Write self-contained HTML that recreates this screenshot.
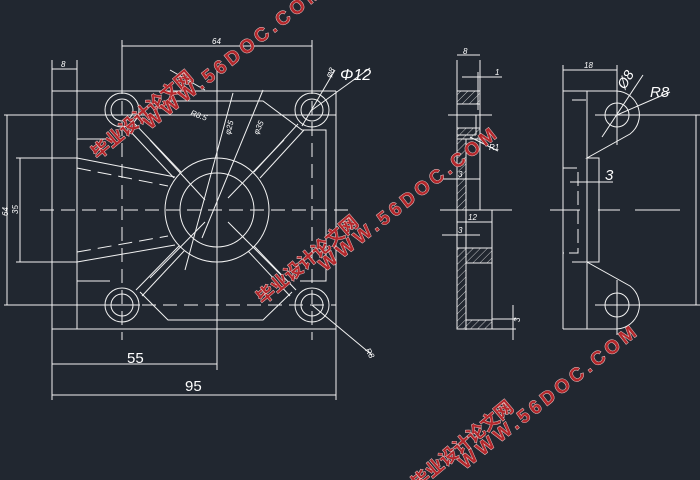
<!DOCTYPE html>
<html><head><meta charset="utf-8"><style>
html,body{margin:0;padding:0;background:#212730;}
svg{display:block}
.w{font-family:"Liberation Sans","Noto Sans CJK SC",sans-serif;font-weight:bold;fill:#b3272b;stroke:#f0d0d0;stroke-width:0.9;paint-order:stroke}
.t{font-family:"Liberation Sans",sans-serif;fill:#fff;font-style:italic}
</style></head><body>
<svg width="700" height="480" viewBox="0 0 700 480" xmlns="http://www.w3.org/2000/svg">
<rect width="700" height="480" fill="#212730"/>
<g stroke="#f2f2f2" stroke-width="1" fill="none">
<line x1="52" y1="60" x2="52" y2="400"/>
<line x1="77" y1="60" x2="77" y2="329"/>
<line x1="336" y1="91" x2="336" y2="400"/>
<line x1="52" y1="91" x2="336" y2="91"/>
<line x1="52" y1="329" x2="336" y2="329"/>
<line x1="122" y1="40" x2="122" y2="90"/>
<line x1="312" y1="40" x2="312" y2="90"/>
<line x1="217" y1="70" x2="217" y2="370"/>
<line x1="122" y1="46" x2="312" y2="46"/>
<line x1="52" y1="69" x2="77" y2="69"/>
<line x1="4" y1="115" x2="336" y2="115"/>
<line x1="4" y1="305" x2="140" y2="305"/>
<line x1="7" y1="115" x2="7" y2="305"/>
<line x1="16" y1="158" x2="77" y2="158"/>
<line x1="16" y1="262" x2="77" y2="262"/>
<line x1="20" y1="158" x2="20" y2="262"/>
<line x1="52" y1="364" x2="217" y2="364"/>
<line x1="52" y1="395" x2="336" y2="395"/>
<polyline points="77,139 110,139"/>
<polyline points="77,281 110,281"/>
<polyline points="170,101 263,101 302,130 326,130 326,281 300,281"/>
<polyline points="140,292 168,320 263,320 292,292"/>
<line x1="77" y1="158" x2="175" y2="177"/>
<line x1="77" y1="262" x2="175" y2="245"/>
<g stroke-dasharray="14,7">
<line x1="77" y1="168" x2="168" y2="186"/>
<line x1="77" y1="252" x2="168" y2="236"/>
<line x1="77" y1="168" x2="77" y2="252"/>
<line x1="122" y1="80" x2="122" y2="340"/>
<line x1="312" y1="80" x2="312" y2="340"/>
<line x1="40" y1="210" x2="350" y2="210"/>
<line x1="100" y1="305" x2="336" y2="305"/>
</g>
<circle cx="122" cy="110" r="17"/><circle cx="122" cy="110" r="11"/>
<circle cx="312" cy="110" r="17"/><circle cx="312" cy="110" r="11"/>
<circle cx="122" cy="305" r="17"/><circle cx="122" cy="305" r="11"/>
<circle cx="312" cy="305" r="17"/><circle cx="312" cy="305" r="11"/>
<circle cx="217" cy="210" r="52"/><circle cx="217" cy="210" r="37"/>
<line x1="135" y1="124" x2="181" y2="172"/><line x1="129" y1="130" x2="174" y2="178"/>
<line x1="298" y1="124" x2="254" y2="172"/><line x1="304" y1="130" x2="260" y2="178"/>
<line x1="136" y1="290" x2="179" y2="246"/><line x1="142" y1="296" x2="184" y2="251"/>
<line x1="296" y1="290" x2="254" y2="246"/><line x1="290" y1="296" x2="248" y2="251"/>
<line x1="150" y1="140" x2="205" y2="200"/><line x1="284" y1="140" x2="228" y2="198"/>
<line x1="150" y1="278" x2="205" y2="222"/><line x1="284" y1="278" x2="228" y2="222"/>
<line x1="312" y1="110" x2="370" y2="68"/><line x1="302" y1="126" x2="335" y2="70"/>
<line x1="233" y1="93" x2="185" y2="270"/><line x1="263" y1="90" x2="202" y2="238"/>
<line x1="170" y1="70" x2="205" y2="90"/>
<line x1="312" y1="305" x2="372" y2="355"/>
<rect x="457" y="91" width="23" height="119"/>
<rect x="457" y="210" width="35" height="119"/>
<line x1="457" y1="115" x2="480" y2="115"/>
<line x1="457" y1="135" x2="476" y2="135"/>
<line x1="476" y1="115" x2="476" y2="135"/>
<line x1="457" y1="60" x2="457" y2="91"/><line x1="480" y1="60" x2="480" y2="91"/>
<line x1="457" y1="55" x2="480" y2="55"/>
<line x1="462" y1="77" x2="502" y2="77"/><line x1="478" y1="72" x2="478" y2="110"/>
<line x1="448" y1="115" x2="492" y2="115"/>
<line x1="470" y1="137" x2="498" y2="151"/>
<line x1="442" y1="179" x2="480" y2="179"/>
<line x1="440" y1="210" x2="512" y2="210"/>
<line x1="457" y1="222" x2="492" y2="222"/>
<line x1="442" y1="235" x2="480" y2="235"/>
<line x1="466" y1="210" x2="466" y2="330"/>
<line x1="466" y1="248" x2="492" y2="248"/>
<line x1="466" y1="263" x2="492" y2="263"/>
<line x1="466" y1="320" x2="492" y2="320"/>
<line x1="492" y1="329" x2="516" y2="329"/><line x1="492" y1="319" x2="516" y2="319"/>
<line x1="513" y1="305" x2="513" y2="340"/>
<line x1="563" y1="91" x2="563" y2="329"/><line x1="587" y1="91" x2="587" y2="329"/>
<line x1="563" y1="91" x2="617" y2="91"/><line x1="563" y1="329" x2="617" y2="329"/>
<line x1="563" y1="65" x2="563" y2="91"/><line x1="617" y1="65" x2="617" y2="145"/>
<line x1="563" y1="70" x2="617" y2="70"/>
<path d="M617,91 A24,24 0 0 1 630,134 L587,158 L599,158 L599,262 L587,262 L630,286 A24,24 0 0 1 617,329"/>
<circle cx="617" cy="115" r="12"/><circle cx="617" cy="305" r="12"/>
<line x1="595" y1="115" x2="700" y2="115"/><line x1="595" y1="305" x2="700" y2="305"/>
<line x1="617" y1="280" x2="617" y2="335"/>
<line x1="602" y1="137" x2="643" y2="75"/><line x1="617" y1="115" x2="670" y2="92"/>
<line x1="696" y1="115" x2="696" y2="305"/>
<line x1="570" y1="182" x2="613" y2="182"/>
<line x1="550" y1="210" x2="580" y2="210"/><line x1="598" y1="210" x2="620" y2="210"/><line x1="635" y1="210" x2="680" y2="210"/>
<g stroke-dasharray="14,5">
<polyline points="572,100 587,100 M572,100 572,158 587,158"/>
<polyline points="563,168 578,168 578,253 563,253"/>
<polyline points="572,262 587,262 M572,262 572,320 587,320"/>
</g>
</g>
<defs><pattern id="h" width="5" height="5" patternUnits="userSpaceOnUse" patternTransform="rotate(45)"><line x1="0" y1="0" x2="0" y2="5" stroke="#eee" stroke-width="0.8"/></pattern></defs>
<g fill="url(#h)" stroke="#eee" stroke-width="1">
<rect x="457" y="91" width="23" height="13"/>
<rect x="457" y="128" width="23" height="11"/>
<rect x="457" y="139" width="9" height="71"/>
<rect x="457" y="248" width="9" height="81"/>
<rect x="466" y="248" width="26" height="15"/>
<rect x="466" y="320" width="26" height="9"/>
</g>
<g class="t" font-size="8">
<text x="212" y="44">64</text><text x="61" y="67">8</text>
<text x="463" y="54">8</text><text x="495" y="75">1</text><text x="489" y="150">R1</text>
<text x="468" y="220">12</text><text x="458" y="233">3</text><text x="458" y="177">3</text>
<text x="584" y="68">18</text>
<text transform="translate(8,216) rotate(-90)">64</text>
<text transform="translate(18,214) rotate(-90)">35</text>
<text transform="translate(700,216) rotate(90)">64</text>
<text transform="translate(520,322) rotate(-90)">3</text>
<text transform="translate(190,115) rotate(20)">R8.5</text>
<text transform="translate(230,135) rotate(-75)">φ25</text>
<text transform="translate(258,135) rotate(-65)">φ35</text>
<text transform="translate(330,78) rotate(-60)">φ8</text>
<text transform="translate(365,350) rotate(60)">R8</text>
</g>
<g class="t" font-size="15" style="font-style:italic">
<text x="340" y="80" font-size="16">Φ12</text>
<text x="127" y="363" style="font-style:normal">55</text><text x="185" y="391" style="font-style:normal">95</text>
<text x="605" y="180">3</text>
<text x="650" y="97">R8</text>
<text transform="translate(625,90) rotate(-60)" font-size="14">Ø8</text>
</g>
<g class="w">
<text transform="translate(98,160) rotate(-40)" font-size="18">毕业设计论文网</text>
<text transform="translate(150,130) rotate(-38)" font-size="19" letter-spacing="4">WWW.56DOC.COM</text>
<text transform="translate(263,305) rotate(-40)" font-size="18">毕业设计论文网</text>
<text transform="translate(325,272) rotate(-38)" font-size="19" letter-spacing="4">WWW.56DOC.COM</text>
<text transform="translate(418,490) rotate(-40)" font-size="18">毕业设计论文网</text>
<text transform="translate(465,470) rotate(-38)" font-size="19" letter-spacing="4">WWW.56DOC.COM</text>
</g>
</svg>
</body></html>
